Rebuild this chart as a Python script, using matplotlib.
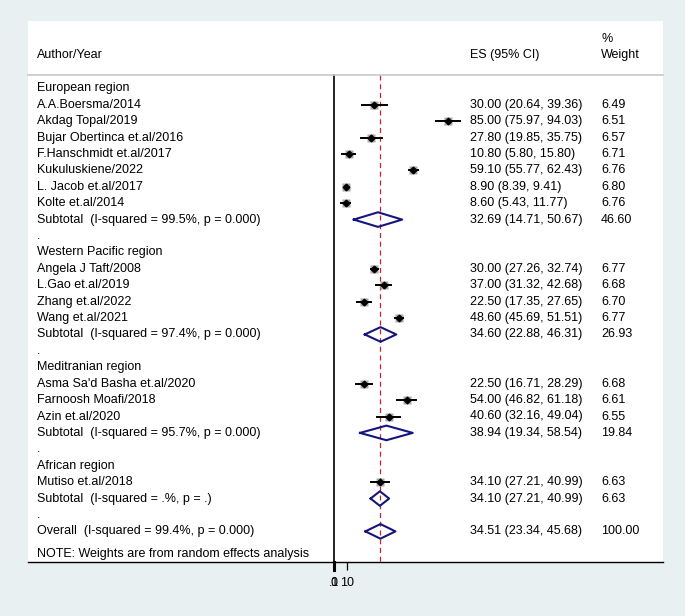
import matplotlib.pyplot as plt
import numpy as np

plt.rcParams['font.family'] = ['Liberation Sans', 'DejaVu Sans']

# ---- data ----
eur_names = ['A.A.Boersma/2014', 'Akdag Topal/2019', 'Bujar Obertinca et.al/2016',
             'F.Hanschmidt et.al/2017', 'Kukuluskiene/2022', 'L. Jacob et.al/2017',
             'Kolte et.al/2014']
eur_es = [30.00, 85.00, 27.80, 10.80, 59.10, 8.90, 8.60]
eur_lo = [20.64, 75.97, 19.85, 5.80, 55.77, 8.39, 5.43]
eur_hi = [39.36, 94.03, 35.75, 15.80, 62.43, 9.41, 11.77]
eur_w = [6.49, 6.51, 6.57, 6.71, 6.76, 6.80, 6.76]
eur_sub = (32.69, 14.71, 50.67, 46.60, '99.5%', '0.000')

wp_names = ['Angela J Taft/2008', 'L.Gao et.al/2019', 'Zhang et.al/2022', 'Wang et.al/2021']
wp_es = [30.00, 37.00, 22.50, 48.60]
wp_lo = [27.26, 31.32, 17.35, 45.69]
wp_hi = [32.74, 42.68, 27.65, 51.51]
wp_w = [6.77, 6.68, 6.70, 6.77]
wp_sub = (34.60, 22.88, 46.31, 26.93, '97.4%', '0.000')

med_names = ["Asma Sa'd Basha et.al/2020", 'Farnoosh Moafi/2018', 'Azin et.al/2020']
med_es = [22.50, 54.00, 40.60]
med_lo = [16.71, 46.82, 32.16]
med_hi = [28.29, 61.18, 49.04]
med_w = [6.68, 6.61, 6.55]
med_sub = (38.94, 19.34, 58.54, 19.84, '95.7%', '0.000')

afr_names = ['Mutiso et.al/2018']
afr_es = [34.10]
afr_lo = [27.21]
afr_hi = [40.99]
afr_w = [6.63]
afr_sub = (34.10, 27.21, 40.99, 6.63, '.%', '.')

overall = (34.51, 23.34, 45.68, 100.00, '99.4%', '0.000')

groups = [
    ('European region', eur_names, eur_es, eur_lo, eur_hi, eur_w, eur_sub),
    ('Western Pacific region', wp_names, wp_es, wp_lo, wp_hi, wp_w, wp_sub),
    ('Meditranian region', med_names, med_es, med_lo, med_hi, med_w, med_sub),
    ('African region', afr_names, afr_es, afr_lo, afr_hi, afr_w, afr_sub),
]

# ---- layout (pixel based, y measured from the top) ----
W, H = 685, 616
X0, SCALE = 334, 1.345          # pixel of ES=0 and pixels per unit
LEFT, RIGHT, TOP, BOTTOM = 28, 663, 21, 562
ROW0, STEP = 88.3, 16.41
FS = 9
NAVY = '#15157f'
RED = '#c0282d'


def xd(px):
    return (px - X0) / SCALE


fig = plt.figure(figsize=(W / 100, H / 100), dpi=100, facecolor='#e8f0f2')
ax = fig.add_axes([LEFT / W, 1 - BOTTOM / H, (RIGHT - LEFT) / W, (BOTTOM - TOP) / H])
ax.set_xlim(xd(LEFT), xd(RIGHT))
ax.set_ylim(BOTTOM, TOP)
ax.set_facecolor('white')
for s in ['top', 'left', 'right']:
    ax.spines[s].set_visible(False)
ax.spines['bottom'].set_linewidth(1.0)
ax.set_yticks([])

x_txt, x_es, x_w = xd(37), xd(470), xd(601)

# header
ax.text(x_txt, 55, 'Author/Year', fontsize=FS, va='center')
ax.text(x_es, 55, 'ES (95% CI)', fontsize=FS, va='center')
ax.text(x_w, 39, '%', fontsize=FS, va='center')
ax.text(x_w, 55, 'Weight', fontsize=FS, va='center')
ax.plot([xd(LEFT), xd(RIGHT)], [74.5, 74.5], color='#c8c8c8', lw=1.2, clip_on=False)

# reference lines
ax.plot([0, 0], [75, BOTTOM], color='black', lw=1.2, zorder=1)
ax.plot([overall[0], overall[0]], [75, BOTTOM], color=RED, lw=0.9,
        ls=(0, (4, 3)), zorder=1)


def diamond(y, es, lo, hi):
    ax.plot([lo, es, hi, es, lo], [y, y - 7.3, y, y + 7.3, y], color=NAVY, lw=1.5,
            zorder=3)


def fmt(es, lo, hi):
    return '%.2f (%.2f, %.2f)' % (es, lo, hi)


row = 0
for gname, names, es, lo, hi, w, sub in groups:
    y = ROW0 + row * STEP
    ax.text(x_txt, y, gname, fontsize=FS, va='center')
    row += 1
    for i in range(len(names)):
        y = ROW0 + row * STEP
        ax.text(x_txt, y, names[i], fontsize=FS, va='center')
        ax.text(x_es, y, fmt(es[i], lo[i], hi[i]), fontsize=FS, va='center')
        ax.text(x_w, y, '%.2f' % w[i], fontsize=FS, va='center')
        ax.plot(es[i], y, marker='s', ms=2.45 * np.sqrt(w[i]), color='#a9a9a9',
                mec='none', zorder=2)
        ax.plot([lo[i], hi[i]], [y, y], color='black', lw=1.4, zorder=3)
        ax.plot(es[i], y, marker='D', ms=3.4, color='black', zorder=4)
        row += 1
    y = ROW0 + row * STEP
    ax.text(x_txt, y, 'Subtotal  (I-squared = %s, p = %s)' % (sub[4], sub[5]),
            fontsize=FS, va='center')
    ax.text(x_es, y, fmt(sub[0], sub[1], sub[2]), fontsize=FS, va='center')
    ax.text(x_w, y, '%.2f' % sub[3], fontsize=FS, va='center')
    diamond(y, sub[0], sub[1], sub[2])
    row += 1
    y = ROW0 + row * STEP
    ax.text(x_txt, y, '.', fontsize=FS, va='center')
    row += 1

y = ROW0 + row * STEP
ax.text(x_txt, y, 'Overall  (I-squared = %s, p = %s)' % (overall[4], overall[5]),
        fontsize=FS, va='center')
ax.text(x_es, y, fmt(overall[0], overall[1], overall[2]), fontsize=FS, va='center')
ax.text(x_w, y, '%.2f' % overall[3], fontsize=FS, va='center')
diamond(y, overall[0], overall[1], overall[2])
ax.text(x_txt, 554, 'NOTE: Weights are from random effects analysis', fontsize=FS,
        va='center')

# x axis
ax.set_xticks([0, 0.1, 10], labels=['0', '.1', '10'])
ax.tick_params(axis='x', length=5.5, width=0.9, labelsize=FS, pad=5)
ax.plot([0, 0], [BOTTOM, BOTTOM + 7.5], color='black', lw=2.2, clip_on=False)

fig.savefig('out.png', dpi=100, facecolor=fig.get_facecolor())
